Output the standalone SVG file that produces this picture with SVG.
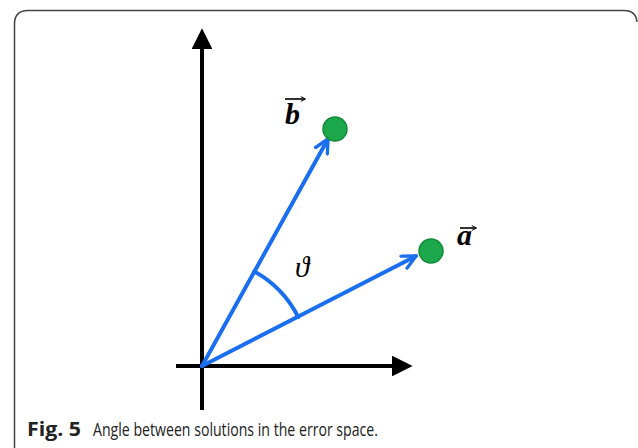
<svg xmlns="http://www.w3.org/2000/svg" width="638" height="448" viewBox="0 0 638 448">
<style>
.axis{stroke:#000;stroke-width:4;fill:none}
.vec{stroke:#1a6ff0;stroke-width:4;fill:none;stroke-linecap:round;stroke-linejoin:round}
.pt{fill:#1aa84a;stroke:#128a3a;stroke-width:1.5}
.lbl{font-family:"Liberation Serif","DejaVu Serif",serif;font-style:italic;font-weight:bold;font-size:30px;fill:#000}
.small{stroke:#000;stroke-width:1.6;fill:none}
.cap{font-family:"Liberation Sans Narrow","Open Sans","Liberation Sans",sans-serif;font-size:19px;fill:#222}
</style>
<defs>
<marker id="blk" viewBox="0 0 10 10" refX="2" refY="5" markerWidth="5.2" markerHeight="5.2" markerUnits="strokeWidth" orient="auto">
<path d="M0,0 L10,5 L0,10 Z" fill="#000"/>
</marker>
<marker id="chev" viewBox="0 0 10 10" refX="9" refY="5" markerWidth="4.2" markerHeight="4.2" markerUnits="strokeWidth" orient="auto">
<path d="M1,1 L9,5 L1,9" fill="none" stroke="#1a6ff0" stroke-width="2" stroke-linecap="round" stroke-linejoin="round"/>
</marker>
<marker id="tiny" viewBox="0 0 10 10" refX="8" refY="5" markerWidth="6" markerHeight="6" markerUnits="userSpaceOnUse" orient="auto">
<path d="M1,1 L9,5 L1,9" fill="none" stroke="#000" stroke-width="1.6"/>
</marker>
</defs>
<path d="M14.5,448 L14.5,24 Q14.5,10.5 28,10.5 L624,10.5 Q636,10.5 637,22" fill="none" stroke="#444" stroke-width="1.5"/>
<g id="connectors">
<line class="axis" x1="202" y1="410" x2="202" y2="45" marker-end="url(#blk)"/>
<line class="axis" x1="176" y1="366" x2="396" y2="366" marker-end="url(#blk)"/>
<line class="vec" x1="202" y1="366" x2="328" y2="139" marker-end="url(#chev)"/>
<line class="vec" x1="202" y1="366" x2="416" y2="256" marker-end="url(#chev)"/>
<path class="vec" d="M254.4,271.5 A108,108 0 0 1 298.2,317"/>
</g>
<g id="point-b"><circle class="pt" cx="335" cy="129" r="12"/></g>
<g id="point-a"><circle class="pt" cx="431" cy="251" r="12"/></g>
<g id="label-b">
<text class="lbl" x="285" y="124">b</text>
<line class="small" x1="285" y1="99" x2="305" y2="99" marker-end="url(#tiny)"/>
</g>
<g id="label-a">
<text class="lbl" x="457" y="245">a</text>
<line class="small" x1="460" y1="228" x2="476" y2="228" marker-end="url(#tiny)"/>
</g>
<g id="label-theta">
<text x="295" y="277" font-family="Liberation Serif, DejaVu Serif, serif" font-style="italic" font-size="29" fill="#000">ϑ</text>
</g>
<g id="caption">
<text class="cap" x="27" y="436" font-weight="bold" textLength="54" lengthAdjust="spacingAndGlyphs">Fig. 5</text>
<text class="cap" x="93" y="436" textLength="285" lengthAdjust="spacingAndGlyphs">Angle between solutions in the error space.</text>
</g>
</svg>
